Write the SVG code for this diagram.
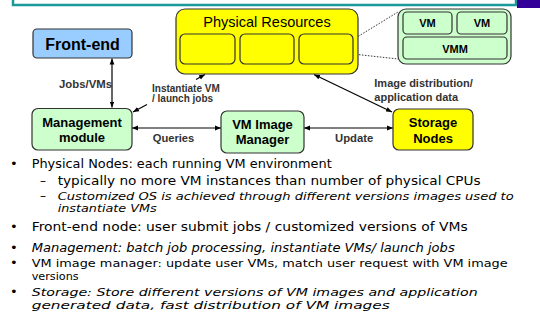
<svg xmlns="http://www.w3.org/2000/svg" width="540" height="320" viewBox="0 0 540 320">
<defs>
<marker id="ah" viewBox="0 0 10 10" refX="10" refY="5" markerWidth="6" markerHeight="6" orient="auto-start-reverse" markerUnits="userSpaceOnUse">
<path d="M0,1 L10,5 L0,9 Z" fill="#000"/>
</marker>
<style>
.node{stroke:#333;stroke-width:1.2}
.nt{font-family:"Liberation Sans",Arial,sans-serif;font-weight:bold;font-size:13px;text-anchor:middle;fill:#000}
.el{font-family:"Liberation Sans",Arial,sans-serif;font-weight:bold;font-size:11px;fill:#333}
.conn{stroke:#000;stroke-width:1.2;fill:none}
.dot{stroke:#333;stroke-width:1;stroke-dasharray:1.5 1.5;fill:none}
.b1{font-family:"DejaVu Sans","Liberation Sans",sans-serif;font-size:13px;fill:#000}
.b2{font-family:"DejaVu Sans","Liberation Sans",sans-serif;font-size:12px;fill:#000}
.w1{font-family:"DejaVu Sans","Liberation Sans",sans-serif;font-size:11px;fill:#000}
.w2{font-family:"DejaVu Sans","Liberation Sans",sans-serif;font-size:10.5px;fill:#000}
.it{font-style:italic}
</style>
</defs>
<rect width="540" height="320" fill="#fff"/>
<g id="title-frame">
<rect x="13" y="-20" width="503" height="25" fill="#fff" stroke="#1a9a9a" stroke-width="2.5"/>
<rect x="517" y="0" width="23" height="8" fill="#330099"/>
</g>
<g id="connectors">
<line class="conn" x1="112" y1="58.5" x2="112" y2="107.5" marker-start="url(#ah)" marker-end="url(#ah)"/>
<line class="conn" x1="132" y1="128" x2="221" y2="128" marker-start="url(#ah)" marker-end="url(#ah)"/>
<line class="conn" x1="304" y1="128" x2="393" y2="128" marker-start="url(#ah)" marker-end="url(#ah)"/>
<line class="conn" x1="314" y1="74.5" x2="392" y2="112" marker-start="url(#ah)" marker-end="url(#ah)"/>
<path class="conn" d="M133,112 L147,104.5 M196,79.5 L205,74.5" marker-start="url(#ah)" marker-end="url(#ah)"/>
<line class="dot" x1="353" y1="39.5" x2="398" y2="12"/>
<line class="dot" x1="353" y1="54" x2="398" y2="59"/>
<text class="el" x="59" y="87.5" textLength="53" lengthAdjust="spacingAndGlyphs">Jobs/VMs</text>
<text class="el" style="font-size:10px"><tspan x="152" y="91.7">Instantiate VM</tspan><tspan x="152" y="102.3">/ launch jobs</tspan></text>
<text class="el"><tspan x="374.3" y="87.3">Image distribution/</tspan><tspan x="374.3" y="100.7">application data</tspan></text>
<text class="el" x="152.7" y="141.7" textLength="41.6" lengthAdjust="spacingAndGlyphs">Queries</text>
<text class="el" x="335" y="141.7" textLength="38.3" lengthAdjust="spacingAndGlyphs">Update</text>
</g>
<g id="front-end">
<rect class="node" x="33" y="29" width="99" height="29" rx="4" fill="#99ccff"/>
<text class="nt" x="82.5" y="50" style="font-size:16px">Front-end</text>
</g>
<g id="physical-resources">
<rect class="node" x="176" y="9" width="182" height="65" rx="9" fill="#ffff00"/>
<text x="267" y="26.7" text-anchor="middle" font-family="Liberation Sans, Arial, sans-serif" font-size="14.5" fill="#000">Physical Resources</text>
<rect class="node" x="180" y="34" width="55" height="30" rx="5" fill="#ffff00"/>
<rect class="node" x="240" y="34" width="54" height="30" rx="5" fill="#ffff00"/>
<rect class="node" x="299" y="34" width="54" height="30" rx="5" fill="#ffff00"/>
</g>
<g id="vm-stack">
<rect class="node" x="398" y="9" width="113" height="55" rx="8" fill="#ccffcc"/>
<rect class="node" x="403" y="12" width="49" height="22" rx="4" fill="#ccffcc"/>
<rect class="node" x="457" y="12" width="50" height="22" rx="4" fill="#ccffcc"/>
<rect class="node" x="403" y="37" width="104" height="22" rx="4" fill="#ccffcc"/>
<text class="nt" x="427.5" y="27.3" style="font-size:11px">VM</text>
<text class="nt" x="482" y="27.3" style="font-size:11px">VM</text>
<text class="nt" x="455" y="52.7" style="font-size:11px">VMM</text>
</g>
<g id="management-module">
<rect class="node" x="32" y="108.5" width="100" height="41.5" rx="6" fill="#ccffcc"/>
<text class="nt"><tspan x="82" y="126.7">Management</tspan><tspan x="82" y="141.7">module</tspan></text>
</g>
<g id="vm-image-manager">
<rect class="node" x="221" y="111" width="83" height="42" rx="6" fill="#ccffcc"/>
<text class="nt"><tspan x="262.5" y="129">VM Image</tspan><tspan x="262.5" y="144.3">Manager</tspan></text>
</g>
<g id="storage-nodes">
<rect class="node" x="393" y="109" width="80" height="41" rx="6" fill="#ffff00"/>
<text class="nt"><tspan x="433" y="126.7">Storage</tspan><tspan x="433" y="143.3">Nodes</tspan></text>
</g>
<g id="bullets">
<text class="b1" x="10" y="168">•</text>
<text class="b1" x="31.7" y="168" textLength="300" lengthAdjust="spacingAndGlyphs">Physical Nodes: each running VM environment</text>
<text class="b2" x="40" y="185">–</text>
<text class="b2" x="57.7" y="185" textLength="423" lengthAdjust="spacingAndGlyphs">typically no more VM instances than number of physical CPUs</text>
<text class="b2" x="40" y="199.5">–</text>
<text class="w2 it"><tspan x="57.7" y="199.5" textLength="456" lengthAdjust="spacingAndGlyphs">Customized OS is achieved through different versions images used to</tspan><tspan x="57.7" y="211.5" textLength="99" lengthAdjust="spacingAndGlyphs">instantiate VMs</tspan></text>
<text class="b1" x="10" y="231">•</text>
<text class="b1" x="31.7" y="231" textLength="436" lengthAdjust="spacingAndGlyphs">Front-end node: user submit jobs / customized versions of VMs</text>
<text class="b1" x="10" y="251.5">•</text>
<text class="b1 it" x="31.7" y="251.5" textLength="423" lengthAdjust="spacingAndGlyphs">Management: batch job processing, instantiate VMs/ launch jobs</text>
<text class="b1" x="10" y="267">•</text>
<text class="w1"><tspan x="31.7" y="267" textLength="476" lengthAdjust="spacingAndGlyphs">VM image manager: update user VMs, match user request with VM image</tspan><tspan x="31.7" y="280" textLength="47" lengthAdjust="spacingAndGlyphs">versions</tspan></text>
<text class="b1" x="10" y="296">•</text>
<text class="w1 it"><tspan x="31.7" y="296" textLength="446" lengthAdjust="spacingAndGlyphs">Storage: Store different versions of VM images and application</tspan><tspan x="31.7" y="309" textLength="358" lengthAdjust="spacingAndGlyphs">generated data, fast distribution of VM images</tspan></text>
</g>
</svg>
